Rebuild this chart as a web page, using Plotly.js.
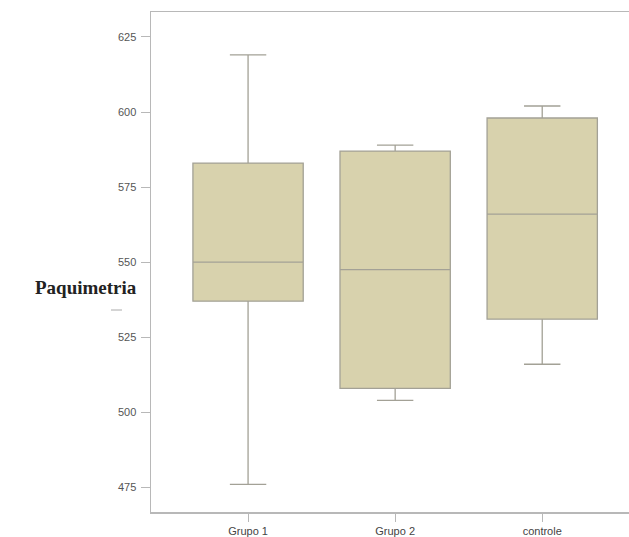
<!DOCTYPE html>
<html>
<head>
<meta charset="utf-8">
<script src="https://cdn.plot.ly/plotly-3.0.1.min.js"></script>
<style>html,body{margin:0;padding:0;background:#fff;}#chart{width:629px;height:537px;}</style>
</head>
<body>
<div id="chart"></div>
<script>
var categories = ["Grupo 1", "Grupo 2", "controle"];
var lowerWhisker = [476, 504, 516];
var q1Values = [537, 508, 531];
var medianValues = [550, 547.5, 566];
var q3Values = [583, 587, 598];
var upperWhisker = [619, 589, 602];
var yTickValues = [475, 500, 525, 550, 575, 600, 625];
var yTitle = "Paquimetria";

var trace = {
  type: "box",
  x: categories,
  q1: q1Values,
  median: medianValues,
  q3: q3Values,
  lowerfence: lowerWhisker,
  upperfence: upperWhisker,
  width: 0.75,
  whiskerwidth: 0.33,
  fillcolor: "#d8d2ad",
  line: {color: "#a3a196", width: 1.3},
  boxpoints: false,
  hoverinfo: "skip",
  showlegend: false
};

var layout = {
  width: 629, height: 537,
  margin: {l: 151, r: 0, t: 12, b: 25},
  paper_bgcolor: "#ffffff",
  plot_bgcolor: "#ffffff",
  font: {family: "Liberation Sans, Arial, sans-serif", size: 11, color: "#555"},
  xaxis: {
    type: "category",
    range: [-0.66, 2.59],
    showgrid: false, zeroline: false,
    showline: true, mirror: true, linecolor: "#b8b8b8", linewidth: 1.5,
    ticks: "outside", ticklen: 8, tickcolor: "#b8b8b8", tickwidth: 1,
    tickfont: {family: "Liberation Sans, Arial, sans-serif", size: 11, color: "#444"}
  },
  yaxis: {
    range: [466.8, 633.3],
    tickvals: yTickValues,
    showgrid: false, zeroline: false,
    showline: true, linecolor: "#b8b8b8", linewidth: 1.5,
    ticks: "outside", ticklen: 9, tickcolor: "#b8b8b8", tickwidth: 1,
    ticklabelstandoff: 2,
    tickfont: {family: "Liberation Sans, Arial, sans-serif", size: 11, color: "#555"}
  },
  annotations: [{
    text: yTitle,
    xref: "paper", yref: "paper",
    x: -0.025, y: 0.45,
    xanchor: "right", yanchor: "middle",
    showarrow: false,
    font: {family: "Liberation Serif, Times New Roman, serif", size: 19, color: "#222", weight: "bold"}
  }],
  shapes: [{
    type: "line", xref: "paper", yref: "paper",
    x0: -0.0837, x1: -0.0607, y0: 0.404, y1: 0.404,
    line: {color: "#aaaaaa", width: 1}
  }]
};

Plotly.newPlot("chart", [trace], layout, {staticPlot: true, displayModeBar: false});
</script>
</body>
</html>
